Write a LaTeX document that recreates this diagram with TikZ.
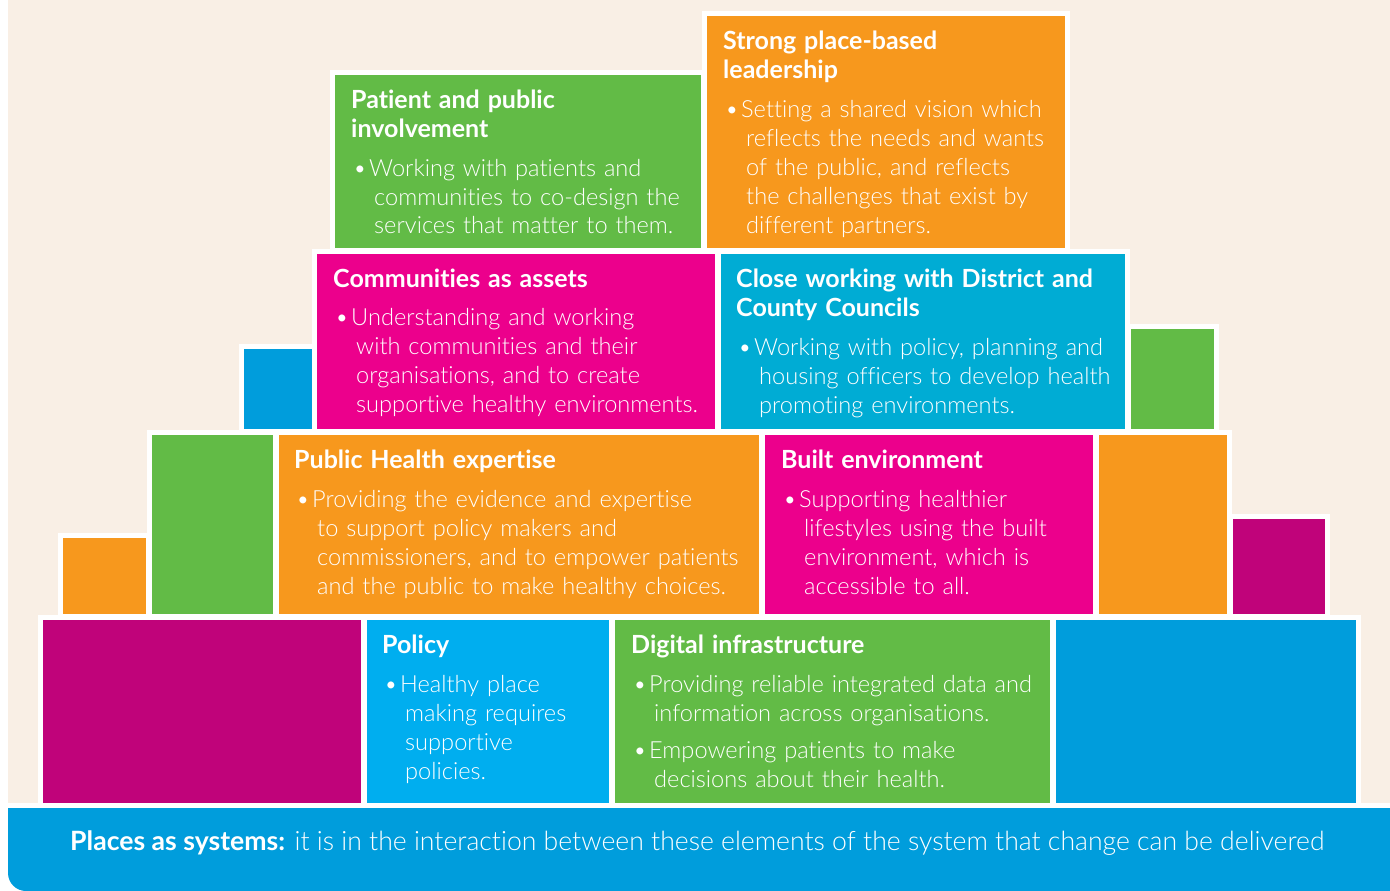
\documentclass[tikz,border=0pt]{standalone}
\usepackage{fontspec}
\setmainfont{Lato}[UprightFont=* Light, BoldFont=* Bold, Ligatures=NoCommon]
\definecolor{bgbeige}{HTML}{F9EFE5}
\definecolor{cgreen}{HTML}{62BB46}
\definecolor{corange}{HTML}{F7981D}
\definecolor{cpink}{HTML}{EC008C}
\definecolor{cdmag}{HTML}{C0037A}
\definecolor{ccyan}{HTML}{00AEEF}
\definecolor{cblue}{HTML}{009DDC}
\definecolor{cteal}{HTML}{00ACD4}
\newcommand\bl[1]{\hspace*{2pt}\makebox[16pt][l]{\textbullet}#1}
\newcommand\ct[1]{\hspace*{23pt}#1}
\newcommand\ttl[1]{{\fontsize{25}{29}\selectfont\bfseries #1}}
\tikzset{
  txt/.style={text=white, align=left, text width=470pt, inner sep=0pt, anchor=base west,
    font=\fontsize{23.6}{29}\selectfont},
  bannertxt/.style={text=white, inner sep=0pt, anchor=base west, font=\fontsize{26.6}{29}\selectfont},
}
\begin{document}
\begin{tikzpicture}[x=1pt,y=-1pt]
\useasboundingbox (0,0) rectangle (1390,891);
\fill[white] (0,0) rectangle (1390,891);
\fill[bgbeige] (8,0) rectangle (1390,803);
% banner
\fill[cblue] (8,808) rectangle (1390,860);
\fill[cblue, rounded corners=18pt] (8,830) rectangle (1430,891);
% white borders
\foreach \a/\b/\c/\d in {43/620/361/803, 367/620/609/803, 615/620/1050/803, 1056/620/1356/803,
  63/538/146/614, 152/435/273/614, 279/435/759/614, 765/435/1093/614, 1099/435/1227/614, 1233/519/1325/614,
  244/349/312/429, 317/254/715/429, 721/254/1125/429, 1131/329/1214/429,
  335/75/701/248, 707/16/1065/248}
  \fill[white] (\a-5,\b-5) rectangle (\c+5,\d+5);
% blocks
\fill[cdmag]   (43,620) rectangle (361,803);
\fill[ccyan]   (367,620) rectangle (609,803);
\fill[cgreen]  (615,620) rectangle (1050,803);
\fill[cblue]   (1056,620) rectangle (1356,803);
\fill[corange] (63,538) rectangle (146,614);
\fill[cgreen]  (152,435) rectangle (273,614);
\fill[corange] (279,435) rectangle (759,614);
\fill[cpink]   (765,435) rectangle (1093,614);
\fill[corange] (1099,435) rectangle (1227,614);
\fill[cdmag]   (1233,519) rectangle (1325,614);
\fill[cblue]   (244,349) rectangle (312,429);
\fill[cpink]   (317,254) rectangle (715,429);
\fill[cteal]   (721,254) rectangle (1125,429);
\fill[cgreen]  (1131,329) rectangle (1214,429);
\fill[cgreen]  (335,75) rectangle (701,248);
\fill[corange] (707,16) rectangle (1065,248);
% texts
\node[txt] (patient) at (351,108) {\ttl{Patient and public}\\\ttl{involvement}\\[10pt]
  \bl{Working with patients and}\\\ct{communities to co-design the}\\\ct{services that matter to them.}};
\node[txt] (strong) at (723,50) {\ttl{Strong place-based}\\\ttl{leadership}\\[10pt]
  \bl{Setting a shared vision which}\\\ct{reflects the needs and wants}\\\ct{of the public, and reflects}\\\ct{the challenges that exist by}\\\ct{different partners.}};
\node[txt] (communities) at (333,287) {\ttl{Communities as assets}\\[9pt]
  \bl{Understanding and working}\\\ct{with communities and their}\\\ct{organisations, and to create}\\\ct{supportive healthy environments.}};
\node[txt] (close) at (736,287) {\ttl{Close working with District and}\\\ttl{County Councils}\\[10pt]
  \bl{Working with policy, planning and}\\\ct{housing officers to develop health}\\\ct{promoting environments.}};
\node[txt] (publichealth) at (294,468) {\ttl{Public Health expertise}\\[10pt]
  \bl{Providing the evidence and expertise}\\\ct{to support policy makers and}\\\ct{commissioners, and to empower patients}\\\ct{and the public to make healthy choices.}};
\node[txt] (built) at (781,468) {\ttl{Built environment}\\[10pt]
  \bl{Supporting healthier}\\\ct{lifestyles using the built}\\\ct{environment, which is}\\\ct{accessible to all.}};
\node[txt] (policy) at (382,653) {\ttl{Policy}\\[10pt]
  \bl{Healthy place}\\\ct{making requires}\\\ct{supportive}\\\ct{policies.}};
\node[txt] (digital) at (631,653) {\ttl{Digital infrastructure}\\[10pt]
  \bl{Providing reliable integrated data and}\\\ct{information across organisations.}\\[8pt]
  \bl{Empowering patients to make}\\\ct{decisions about their health.}};
\node[bannertxt] (banner) at (70,850) {\textbf{Places as systems:} it is in the interaction between these elements of the system that change can be delivered};
\end{tikzpicture}
\end{document}
